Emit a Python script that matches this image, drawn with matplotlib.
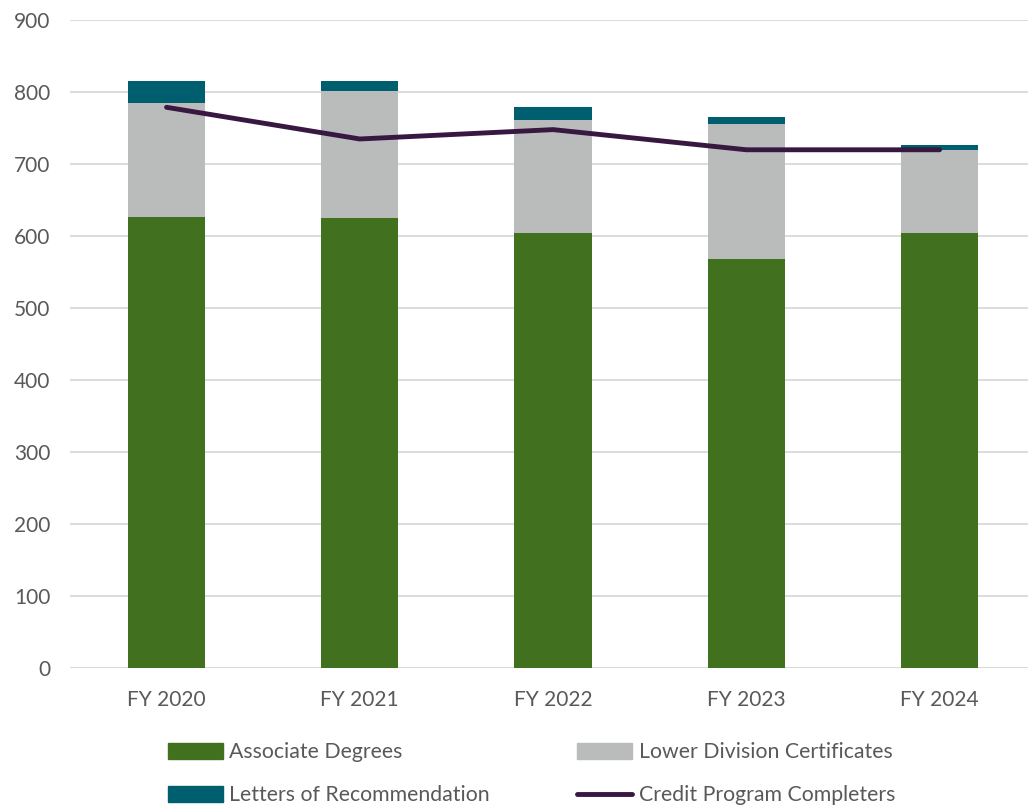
import matplotlib
matplotlib.use('Agg')
import matplotlib.pyplot as plt
import numpy as np
from matplotlib.patches import Patch
from matplotlib.lines import Line2D

years = ['FY 2020', 'FY 2021', 'FY 2022', 'FY 2023', 'FY 2024']
associate = [626, 625, 604, 569, 604]
lower_div = [159, 176, 158, 187, 115]
letters = [31, 15, 18, 10, 7]
completers = [779, 735, 748, 720, 720]

green = '#41701e'
grey = '#babcbb'
teal = '#005f6f'
purple = '#381740'
txt = '#595959'

plt.rcParams['font.family'] = ['Lato', 'DejaVu Sans']

fig = plt.figure(figsize=(10.28, 8.07), dpi=100)
ax = fig.add_axes([0.068, 0.172, 0.940, 0.803])

x = np.arange(len(years))
w = 0.40
a = np.array(associate)
l = np.array(lower_div)
ax.bar(x, a, w, color=green, zorder=2)
ax.bar(x, l, w, bottom=a, color=grey, zorder=2)
ax.bar(x, letters, w, bottom=a + l, color=teal, zorder=2)
ax.plot(x, completers, color=purple, lw=3.5, solid_capstyle='round', zorder=3)

ax.set_xlim(-0.5, len(years) - 0.5)
ax.set_ylim(0, 900)
ax.set_yticks(range(0, 901, 100))
ax.set_xticks(x)
ax.set_xticklabels(years)
ax.grid(axis='y', color='#d9d9d9', lw=1.3, zorder=0)
ax.tick_params(length=0, labelsize=15, colors=txt)
ax.tick_params(axis='y', pad=14)
ax.tick_params(axis='x', pad=16)
for s in ax.spines.values():
    s.set_visible(False)
ax.axhline(0, color='#d9d9d9', lw=1.3, zorder=1)

handles = [Patch(color=green), Patch(color=teal), Patch(color=grey),
           Line2D([], [], color=purple, lw=3.5, solid_capstyle='round')]
labels = ['Associate Degrees', 'Letters of Recommendation',
          'Lower Division Certificates', 'Credit Program Completers']
fig.legend(handles, labels, ncol=2, loc='upper left',
           bbox_to_anchor=(0.163, 0.08), frameon=False, fontsize=15.3,
           labelcolor=txt, handlelength=2.6, handleheight=0.75,
           handletextpad=0.3, columnspacing=4.1, labelspacing=1.08,
           borderaxespad=0, borderpad=0)

fig.savefig('out.png', dpi=100)
